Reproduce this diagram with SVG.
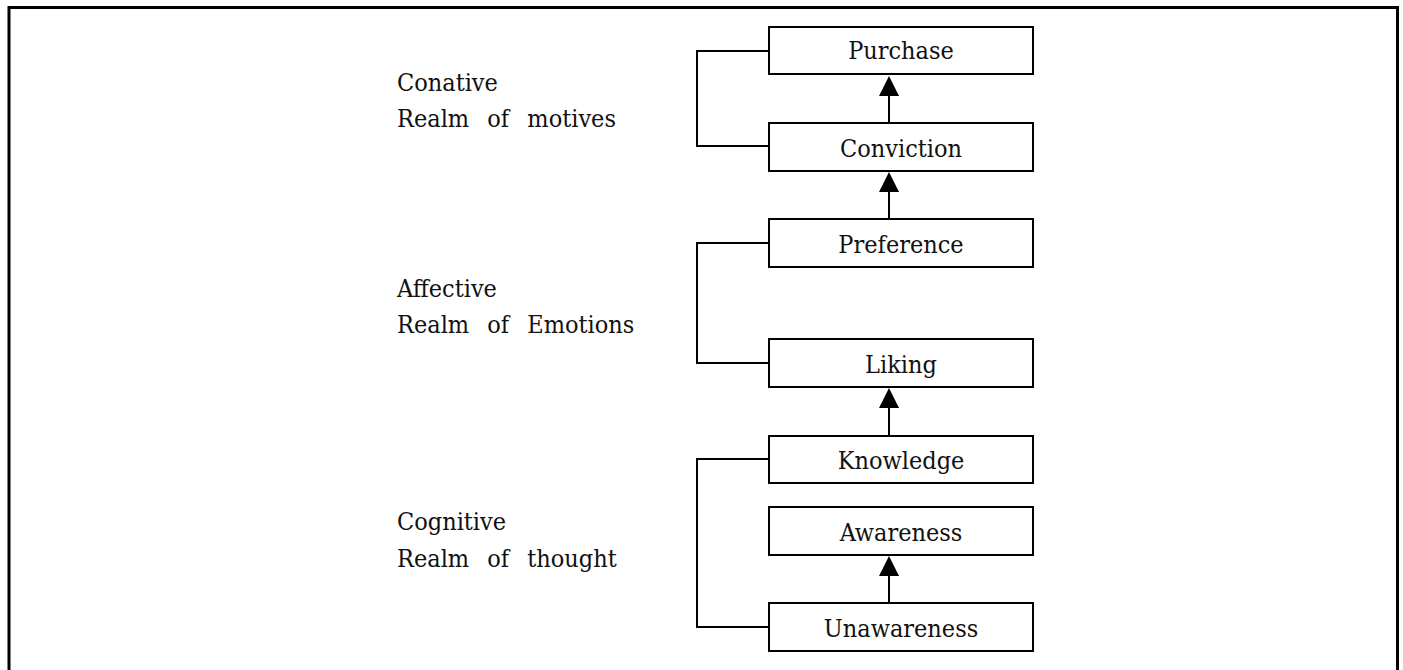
<svg xmlns="http://www.w3.org/2000/svg" width="1403" height="670" viewBox="0 0 1403 670">
  <style>
    .box { fill: #fff; stroke: #000; stroke-width: 2; }
    .lbl { font-family: "DejaVu Serif Condensed", "DejaVu Serif", "Liberation Serif", serif; font-stretch: condensed; font-size: 25px; fill: #111; text-anchor: middle; }
    .side { font-family: "DejaVu Serif Condensed", "DejaVu Serif", "Liberation Serif", serif; font-stretch: condensed; font-size: 25px; fill: #111; word-spacing: 11px; }
    .wire { fill: none; stroke: #000; stroke-width: 2; }
  </style>
  <rect x="0" y="0" width="1403" height="670" fill="#fff"/>
  <!-- frame -->
  <path d="M9,675 V7.5 H1397.5 V675" fill="none" stroke="#000" stroke-width="3"/>

  <!-- side labels -->
  <g id="realm-conative">
    <text class="side" x="397" y="91">Conative</text>
    <text class="side" x="397" y="127">Realm of motives</text>
  </g>
  <g id="realm-affective">
    <text class="side" x="397" y="297">Affective</text>
    <text class="side" x="397" y="333">Realm of Emotions</text>
  </g>
  <g id="realm-cognitive">
    <text class="side" x="397" y="530">Cognitive</text>
    <text class="side" x="397" y="567">Realm of thought</text>
  </g>

  <!-- connectors -->
  <g id="connectors">
    <path class="wire" d="M769,51 H697 V146 H769"/>
    <path class="wire" d="M769,243 H697 V363 H769"/>
    <path class="wire" d="M769,459 H697 V627 H769"/>
    <line class="wire" x1="889" y1="123" x2="889" y2="96"/>
    <path d="M879,96 L889,76 L899,96 Z"/>
    <line class="wire" x1="889" y1="219" x2="889" y2="192"/>
    <path d="M879,192 L889,172 L899,192 Z"/>
    <line class="wire" x1="889" y1="436" x2="889" y2="408"/>
    <path d="M879,408 L889,388 L899,408 Z"/>
    <line class="wire" x1="889" y1="603" x2="889" y2="576"/>
    <path d="M879,576 L889,556 L899,576 Z"/>
  </g>

  <!-- stages -->
  <g id="purchase"><rect class="box" x="769" y="27" width="264" height="47"/><text class="lbl" x="901" y="59">Purchase</text></g>
  <g id="conviction"><rect class="box" x="769" y="123" width="264" height="48"/><text class="lbl" x="901" y="157">Conviction</text></g>
  <g id="preference"><rect class="box" x="769" y="219" width="264" height="48"/><text class="lbl" x="901" y="253">Preference</text></g>
  <g id="liking"><rect class="box" x="769" y="339" width="264" height="48"/><text class="lbl" x="901" y="373">Liking</text></g>
  <g id="knowledge"><rect class="box" x="769" y="436" width="264" height="47"/><text class="lbl" x="901" y="469">Knowledge</text></g>
  <g id="awareness"><rect class="box" x="769" y="507" width="264" height="48"/><text class="lbl" x="901" y="541">Awareness</text></g>
  <g id="unawareness"><rect class="box" x="769" y="603" width="264" height="48"/><text class="lbl" x="901" y="637">Unawareness</text></g>
</svg>
